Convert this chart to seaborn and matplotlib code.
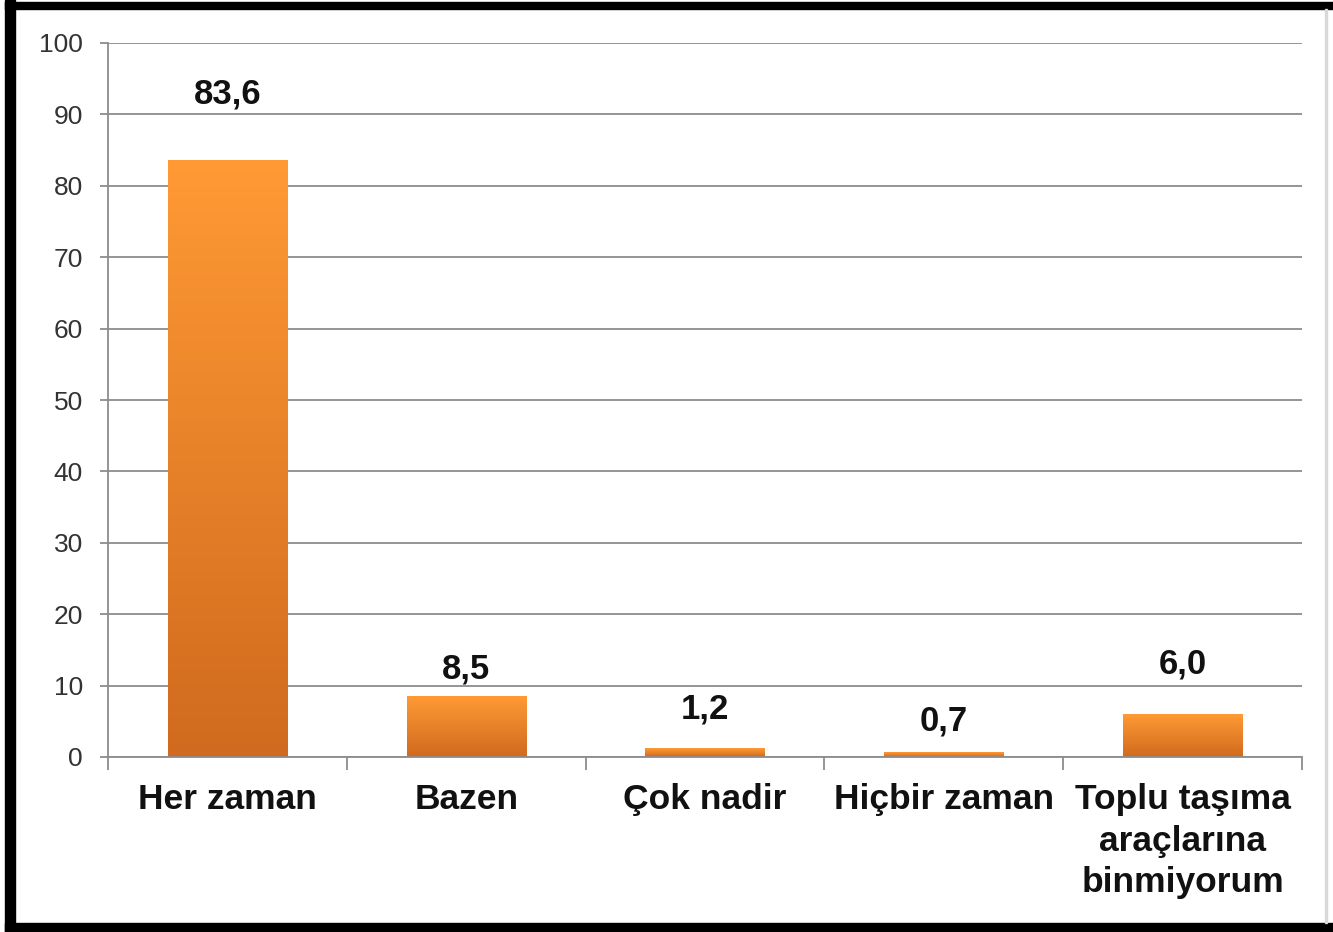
import numpy as np
import pandas as pd
import matplotlib
matplotlib.use("Agg")
import matplotlib.pyplot as plt
from matplotlib.patches import Rectangle
from matplotlib.colors import LinearSegmentedColormap
import seaborn as sns

categories = ["Her zaman", "Bazen", "Çok nadir", "Hiçbir zaman",
              "Toplu taşıma\naraçlarına\nbinmiyorum"]
values = [83.6, 8.5, 1.2, 0.7, 6.0]
value_labels = ["83,6", "8,5", "1,2", "0,7", "6,0"]
y_ticks = [0, 10, 20, 30, 40, 50, 60, 70, 80, 90, 100]

# label offsets above bar tops (pixels) — styling only
label_offsets = [57, 18, 30, 22, 41]

sns.set_theme(style="white")
plt.rcParams['font.family'] = ['Liberation Sans', 'DejaVu Sans']

W, H = 1333, 932
fig = plt.figure(figsize=(W / 100, H / 100), dpi=100)
ax = fig.add_axes([108 / W, (H - 757) / H, (1302 - 108) / W, (757 - 43) / H])

df = pd.DataFrame({"cat": categories, "val": values})
sns.barplot(data=df, x="cat", y="val", ax=ax, width=0.5, color="#F08A2A",
            saturation=1, edgecolor="none")

ax.set_ylim(0, 100)
ax.set_xlim(-0.5, len(categories) - 0.5)
ax.set_yticks(y_ticks)
ax.set_yticklabels([str(t) for t in y_ticks], fontsize=19, color="#333333")
ax.set_xlabel("")
ax.set_ylabel("")

# gradient fill for bars
cmap = LinearSegmentedColormap.from_list("og", ["#D06A1E", "#FF9A35"])
grad = np.linspace(0, 1, 256).reshape(-1, 1)
for p in list(ax.patches):
    x0, y0 = p.get_x(), p.get_y()
    w, h = p.get_width(), p.get_height()
    im = ax.imshow(grad, cmap=cmap, aspect="auto", origin="lower",
                   extent=[x0, x0 + w, y0, y0 + h], zorder=p.get_zorder() + 0.1)
    im.set_clip_path(p)
    p.set_facecolor("none")
ax.set_xlim(-0.5, len(categories) - 0.5)
ax.set_ylim(0, 100)

# gridlines
ax.yaxis.grid(True, color="#8C8C8C", linewidth=1.3)
ax.set_axisbelow(True)

for s in ["top", "right"]:
    ax.spines[s].set_visible(False)
for s in ["left", "bottom"]:
    ax.spines[s].set_visible(True)
    ax.spines[s].set_color("#8C8C8C")
    ax.spines[s].set_linewidth(1.3)

# y ticks outward
ax.tick_params(axis="y", which="major", direction="out", length=6, width=1.3,
               color="#8C8C8C", pad=12, left=True)

# x ticks: labels at centers, tick marks at boundaries
ax.set_xticks(range(len(categories)))
ax.set_xticklabels(categories, fontsize=25.5, fontweight="bold", color="#111111",
                   linespacing=1.32)
ax.tick_params(axis="x", which="major", length=0, pad=19)
ax.set_xticks(np.arange(-0.5, len(categories) + 0.5, 1), minor=True)
ax.tick_params(axis="x", which="minor", direction="out", length=9, width=1.3,
               color="#8C8C8C", bottom=True)

# value labels
for i, (v, lab, off) in enumerate(zip(values, value_labels, label_offsets)):
    ax.annotate(lab, xy=(i, v), xytext=(0, off), textcoords="offset pixels",
                ha="center", va="baseline", fontsize=25, fontweight="bold",
                color="#111111")

# black frame (cropped at right)
fig.patches.append(Rectangle((5 / W, 0), 10 / W, 1, transform=fig.transFigure,
                             color="black", zorder=10))
fig.patches.append(Rectangle((5 / W, (H - 9) / H), 1, 7 / H, transform=fig.transFigure,
                             color="black", zorder=10))
fig.patches.append(Rectangle((5 / W, 0), 1, 9 / H, transform=fig.transFigure,
                             color="black", zorder=10))
fig.patches.append(Rectangle((1325 / W, 9 / H), 1.5 / W, (H - 18) / H,
                             transform=fig.transFigure, color="#D8D8D8", zorder=10))

fig.savefig("out.png", dpi=100)
